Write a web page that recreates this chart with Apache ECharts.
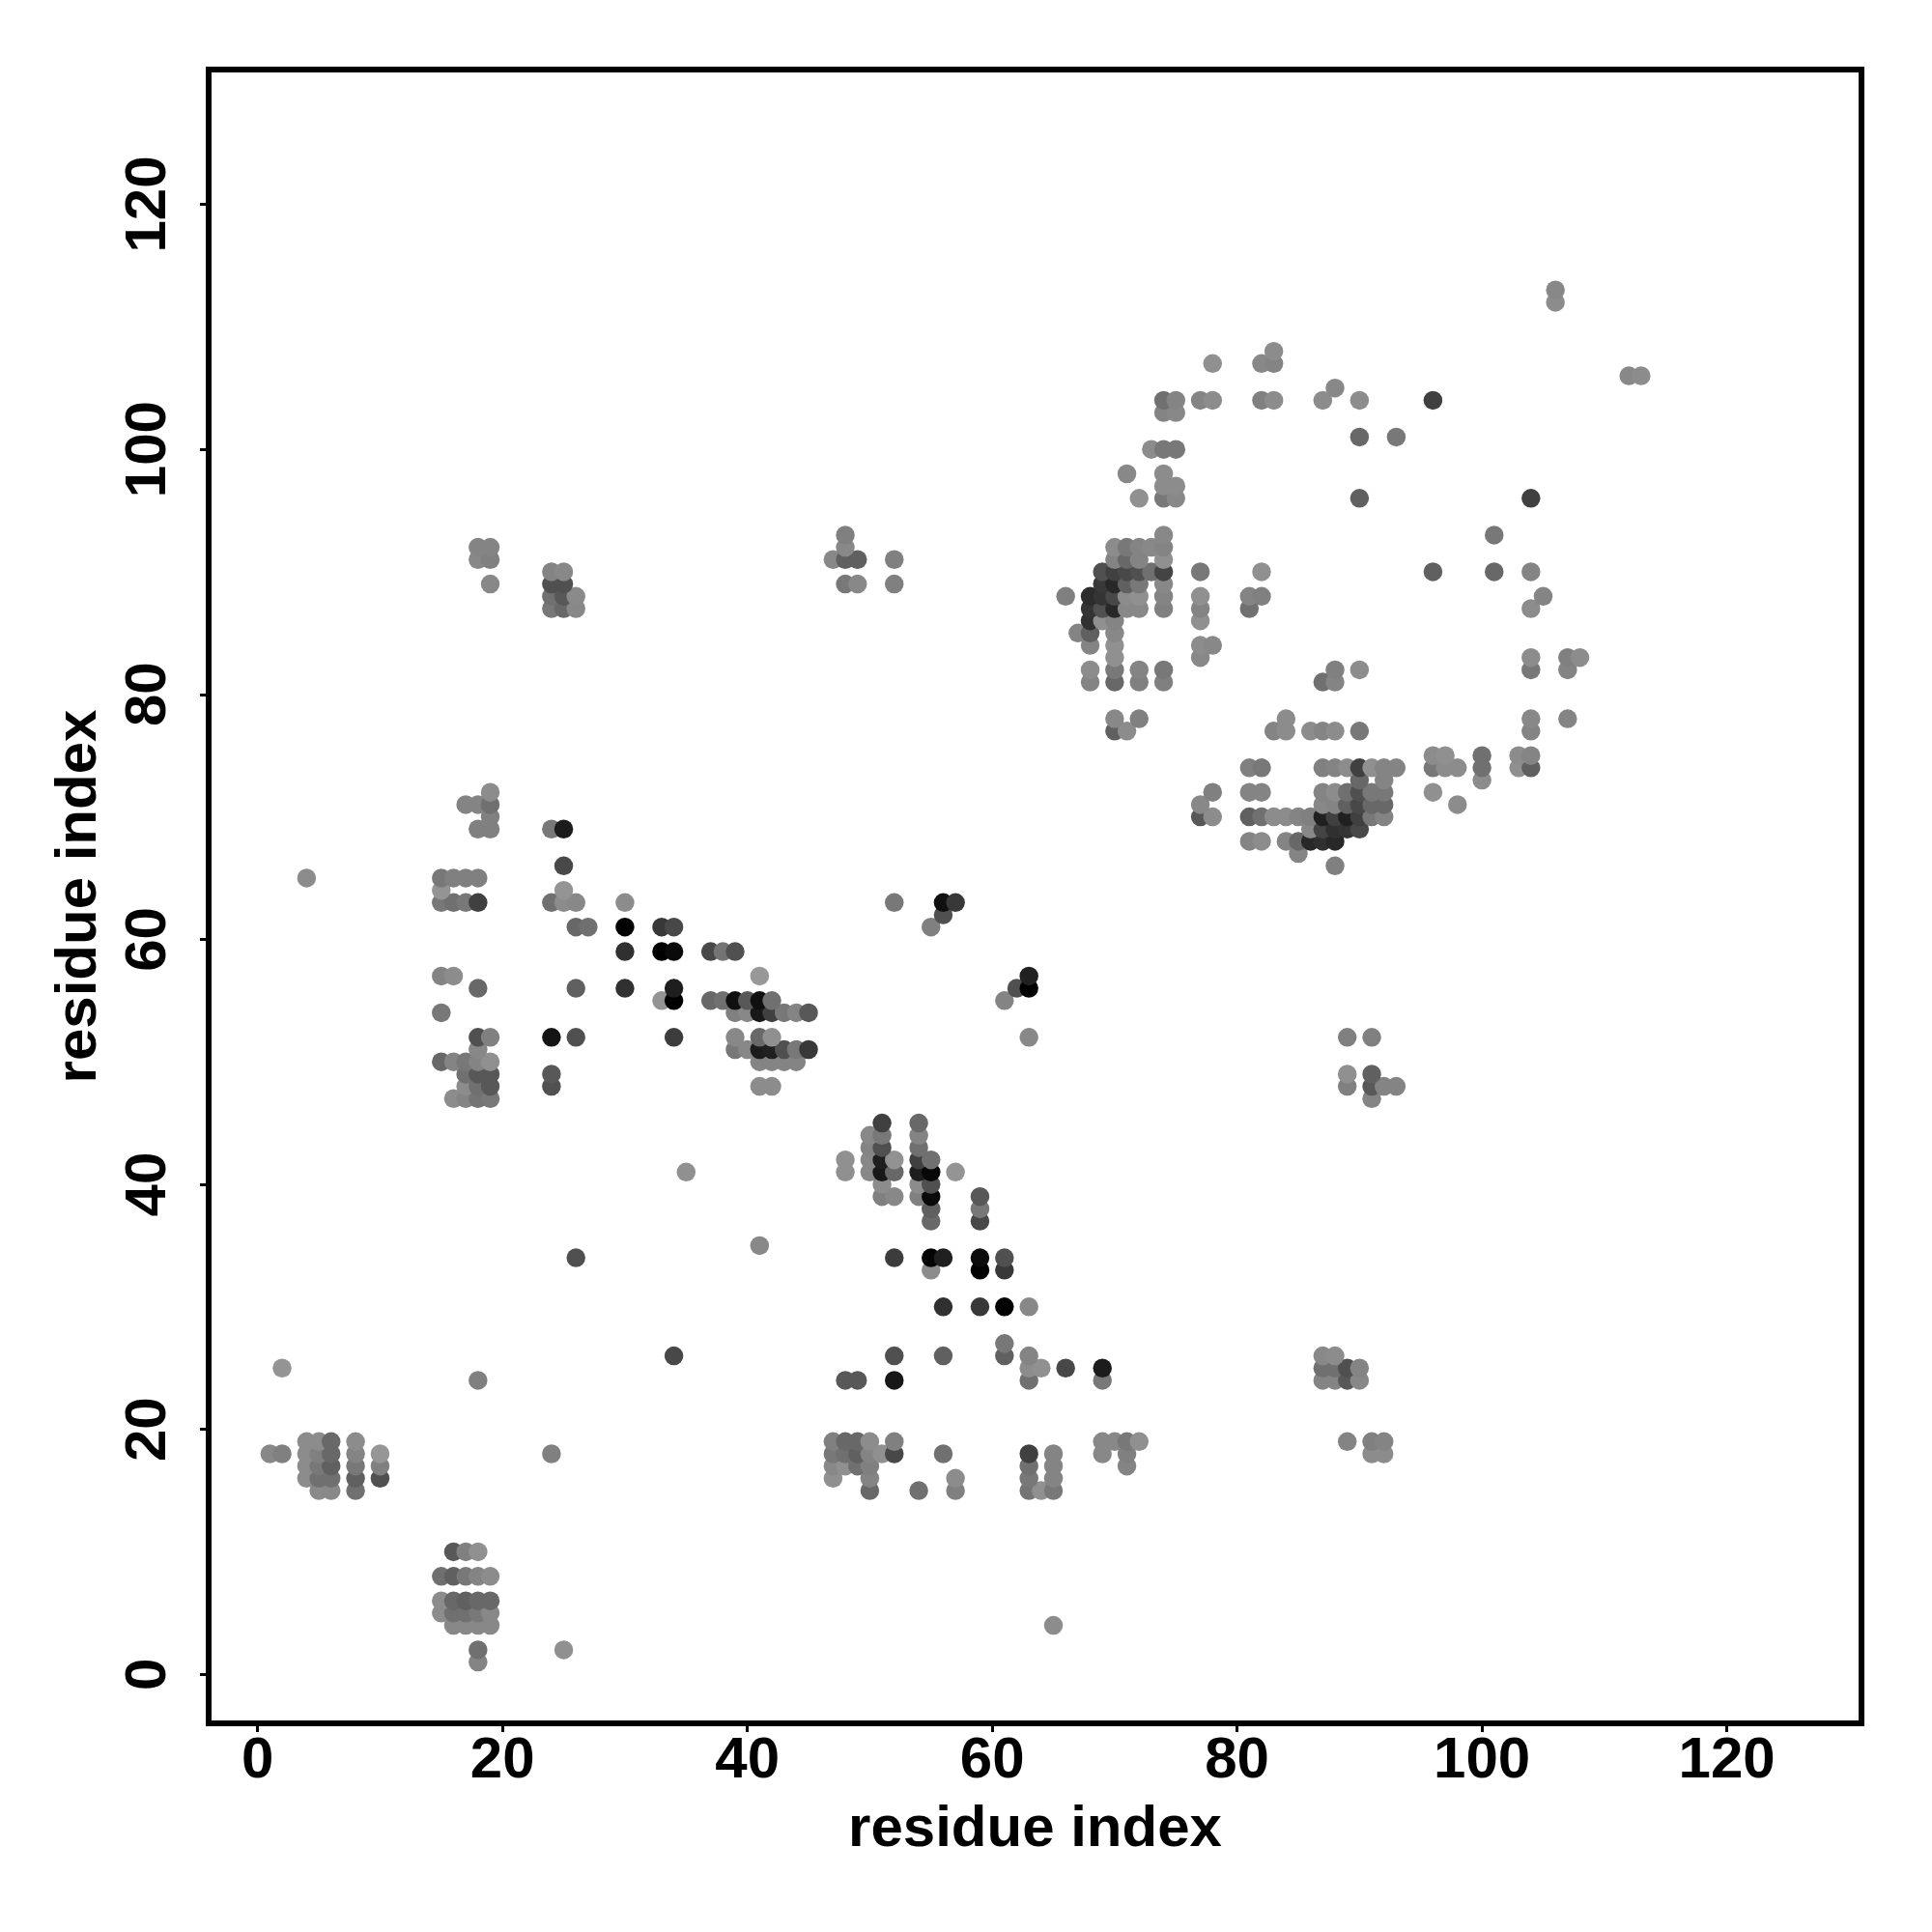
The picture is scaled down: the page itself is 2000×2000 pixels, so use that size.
<!DOCTYPE html>
<html><head><meta charset="utf-8">
<style>html,body{margin:0;padding:0;background:#fff}#c{width:2000px;height:2000px}</style>
<script src="https://cdn.jsdelivr.net/npm/echarts@6/dist/echarts.min.js"></script>
</head><body><div id="c"></div>
<script>
const tickValues = [0,20,40,60,80,100,120];
const axisTitle = 'residue index';
// each row: residue y, then pairs of residue x, grey level
const rowsLow = [
[1, 18,0x84],
[2, 18,0x70, 25,0x90],
[4, 16,0x88,17,0x88,18,0x88,19,0x88,65,0x8c],
[5, 15,0x8c,16,0x70,17,0x70,18,0x78,19,0x88],
[6, 15,0x8c,16,0x68,17,0x60,18,0x68,19,0x68],
[8, 15,0x70,16,0x60,17,0x78,18,0x84,19,0x8c],
[10, 16,0x58,17,0x80,18,0x90],
[15, 5,0x8a,6,0x88,8,0x70,50,0x68,54,0x70,57,0x80,63,0x74,64,0x90,65,0x78],
[16, 4,0x8c,5,0x70,6,0x70,8,0x60,10,0x50,47,0x90,50,0x84,57,0x8c,63,0x78,65,0x84],
[17, 4,0x8c,5,0x78,6,0x60,8,0x78,10,0x80,47,0x88,48,0x90,49,0x70,50,0x80,63,0x70,65,0x84,71,0x84],
[18, 1,0x88,2,0x80,4,0x8c,5,0x80,6,0x68,8,0x84,10,0x96,24,0x80,47,0x78,48,0x70,49,0x60,50,0x84,51,0x90,52,0x48,56,0x70,63,0x40,65,0x84,69,0x88,71,0x80,91,0x8c,92,0x8c],
[19, 4,0x8c,5,0x8c,6,0x68,8,0x8c,47,0x80,48,0x68,49,0x68,50,0x8c,52,0x80,69,0x88,70,0x88,71,0x78,72,0x90,89,0x84,91,0x80,92,0x84],
[24, 18,0x80,48,0x58,49,0x58,52,0x18,63,0x70,69,0x78,87,0x84,88,0x84,89,0x58,90,0x88],
[25, 2,0x94,63,0x8c,64,0x90,66,0x48,69,0x1c,87,0x70,88,0x70,89,0x50,90,0x84],
[26, 34,0x48,52,0x50,56,0x60,61,0x60,63,0x84,87,0x88,88,0x8c],
[27, 61,0x78],
[30, 56,0x30,59,0x38,61,0x00,63,0x88],
[33, 55,0x8c,59,0x02,61,0x38],
[34, 26,0x50,52,0x3c,55,0x05,56,0x20,59,0x0c,61,0x50],
[35, 41,0x88],
[37, 55,0x68,59,0x48],
[38, 55,0x60,59,0x78],
[39, 51,0x80,52,0x88,54,0x80,55,0x0a,59,0x58],
[40, 51,0x8c,54,0x8c,55,0x50],
[41, 35,0x90,48,0x90,50,0x88,51,0x18,52,0x68,54,0x1e,55,0x08,57,0x94],
[42, 48,0x90,50,0x88,51,0x1f,52,0x92,54,0x40,55,0x70],
[43, 50,0x84,51,0x50,54,0x70],
[44, 50,0x88,51,0x78,54,0x84],
[45, 51,0x40,54,0x68]
];
const rowsMiddle = [
[47, 16,0x8c,17,0x84,18,0x74,19,0x78,91,0x84],
[48, 17,0x8c,18,0x70,19,0x58,24,0x50,41,0x8c,42,0x8c,89,0x80,91,0x58,92,0x84,93,0x84],
[49, 17,0x70,18,0x58,19,0x58,24,0x58,89,0x90,91,0x60],
[50, 15,0x68,16,0x84,17,0x78,18,0x84,19,0x90,41,0x84,42,0x84,43,0x84,44,0x84],
[51, 18,0x88,39,0x78,40,0x88,41,0x1c,42,0x20,43,0x50,44,0x78,45,0x38],
[52, 18,0x50,19,0x80,24,0x14,26,0x50,34,0x3c,39,0x88,41,0x68,42,0x90,63,0x88,89,0x80,91,0x80],
[54, 15,0x78,39,0x80,40,0x88,41,0x18,42,0x40,43,0x78,44,0x84,45,0x58],
[55, 33,0x94,34,0x00,37,0x68,38,0x70,39,0x10,40,0x58,41,0x10,42,0x70,61,0x84],
[56, 18,0x68,26,0x60,30,0x30,34,0x1e,62,0x50,63,0x00],
[57, 15,0x84,16,0x8c,41,0x98,63,0x20],
[59, 30,0x30,33,0x00,34,0x0a,37,0x48,38,0x74,39,0x50],
[61, 26,0x68,27,0x70,30,0x00,33,0x38,34,0x48,55,0x80],
[62, 56,0x50],
[63, 15,0x78,16,0x70,17,0x78,18,0x40,24,0x70,25,0x8c,26,0x88,30,0x8c,52,0x78,56,0x10,57,0x38],
[64, 15,0x94,25,0x94],
[65, 4,0x8c,15,0x78,16,0x80,17,0x80,18,0x80],
[66, 25,0x48,88,0x80],
[67, 85,0x84],
[68, 81,0x84,82,0x8c,84,0x84,85,0x68,86,0x28,87,0x30,88,0x28],
[69, 18,0x80,19,0x80,24,0x78,25,0x1c,86,0x88,87,0x44,88,0x30,89,0x34,90,0x48],
[70, 19,0x80,77,0x58,78,0x8c,81,0x60,82,0x70,83,0x8c,84,0x8c,85,0x84,86,0x80,87,0x20,88,0x40,89,0x20,90,0x40,91,0x78,92,0x84],
[71, 17,0x84,18,0x84,19,0x70,77,0x88,87,0x88,88,0x84,89,0x60,90,0x48,91,0x68,92,0x68,98,0x8c],
[72, 19,0x8c,78,0x80,81,0x84,82,0x84,87,0x84,88,0x8c,89,0x70,90,0x50,91,0x78,92,0x78,96,0x90],
[73, 90,0x68,92,0x84,100,0x8c],
[74, 81,0x80,82,0x78,87,0x80,88,0x84,89,0x8c,90,0x40,91,0x90,92,0x84,93,0x84,96,0x78,97,0x8c,98,0x8c,100,0x70,103,0x90,104,0x60],
[75, 96,0x8c,97,0x90,100,0x70,103,0x8c,104,0x84]
];
const rowsHigh = [
[77, 70,0x60,71,0x8c,83,0x84,84,0x8c,86,0x8c,87,0x84,88,0x8c,90,0x78,104,0x84],
[78, 70,0x88,72,0x80,84,0x8c,104,0x88,107,0x84],
[81, 68,0x84,70,0x68,72,0x80,74,0x80,87,0x70,88,0x84],
[82, 68,0x8c,70,0x78,72,0x84,74,0x78,88,0x80,90,0x8c,104,0x78,107,0x84],
[83, 70,0x90,77,0x88,104,0x8c,107,0x80,108,0x8c],
[84, 68,0x84,70,0x90,77,0x8c,78,0x88],
[85, 67,0x84,68,0x60,70,0x88],
[86, 68,0x30,69,0x90,70,0x84,77,0x90],
[87, 24,0x78,25,0x68,26,0x88,68,0x34,69,0x50,70,0x28,71,0x88,72,0x88,74,0x80,77,0x84,81,0x70,104,0x8c],
[88, 24,0x70,25,0x58,26,0x8a,66,0x80,68,0x2c,69,0x34,70,0x48,71,0x8c,72,0x90,74,0x84,77,0x90,81,0x84,82,0x80,105,0x84],
[89, 19,0x88,24,0x50,25,0x50,48,0x78,49,0x88,52,0x80,69,0x38,70,0x28,71,0x60,72,0x78,74,0x88],
[90, 24,0x84,25,0x88,69,0x50,70,0x40,71,0x48,72,0x50,73,0x70,74,0x44,77,0x78,82,0x90,96,0x60,101,0x68,104,0x84],
[91, 18,0x88,19,0x80,47,0x88,48,0x60,49,0x60,52,0x80,70,0x84,71,0x68,72,0x84,74,0x90],
[92, 18,0x84,19,0x84,48,0x88,70,0x8c,71,0x78,72,0x84,73,0x88,74,0x84],
[93, 48,0x80,74,0x88,101,0x78],
[96, 72,0x90,74,0x78,75,0x88,90,0x60,104,0x40],
[97, 74,0x8c,75,0x8c],
[98, 71,0x88,74,0x8c],
[100, 73,0x8c,74,0x78,75,0x78],
[101, 90,0x68,93,0x78],
[103, 74,0x84,75,0x88],
[104, 74,0x70,75,0x84,77,0x84,78,0x8c,82,0x80,83,0x8c,87,0x8c,90,0x8c,96,0x40],
[105, 88,0x88],
[106, 112,0x88,113,0x8c],
[107, 78,0x90,82,0x88,83,0x84],
[108, 83,0x8c],
[112, 106,0x8c],
[113, 106,0x88]
];

const points = [];
[...rowsLow, ...rowsMiddle, ...rowsHigh].forEach(r => {
  for (let i = 1; i < r.length; i += 2) points.push([r[i], r[0], r[i + 1]]);
});
const FONT = '"Liberation Sans", Arial, sans-serif';
const chart = echarts.init(document.getElementById('c'), null, {renderer: 'canvas'});
function axisCfg(rot) {
  return {
    type: 'value', min: -4, max: 131, scale: false,
    name: axisTitle, nameLocation: 'middle',
    nameTextStyle: {fontFamily: FONT, fontWeight: 'bold', fontSize: 60, color: '#000'},
    splitLine: {show: false},
    axisLine: {show: true, onZero: false, lineStyle: {color: '#000', width: 6}},
    axisTick: {show: true, customValues: tickValues, length: 9, lineStyle: {color: '#000', width: 3}},
    axisLabel: {show: true, customValues: tickValues, fontFamily: FONT, fontWeight: 'bold', fontSize: 60, color: '#000', rotate: rot, hideOverlap: false, showMinLabel: true, showMaxLabel: true}
  };
}
const xA = axisCfg(0); xA.nameGap = 80; xA.axisLabel.margin = 9;
const yA = axisCfg(90); yA.nameGap = 104; yA.nameRotate = 90; yA.axisLabel.margin = 32;
chart.setOption({
  animation: false, backgroundColor: '#fff',
  grid: {left: 216, top: 72, width: 1711, height: 1712, show: true, borderColor: '#000', borderWidth: 6, backgroundColor: 'transparent'},
  xAxis: xA, yAxis: yA,
  series: [{
    type: 'scatter', symbol: 'circle', symbolSize: 19.5, large: false, progressive: 0,
    data: points, encode: {x: 0, y: 1},
    itemStyle: {opacity: 1, color: p => { const g = p.value[2]; return 'rgb(' + g + ',' + g + ',' + g + ')'; }},
    silent: true
  }]
});
</script></body></html>
